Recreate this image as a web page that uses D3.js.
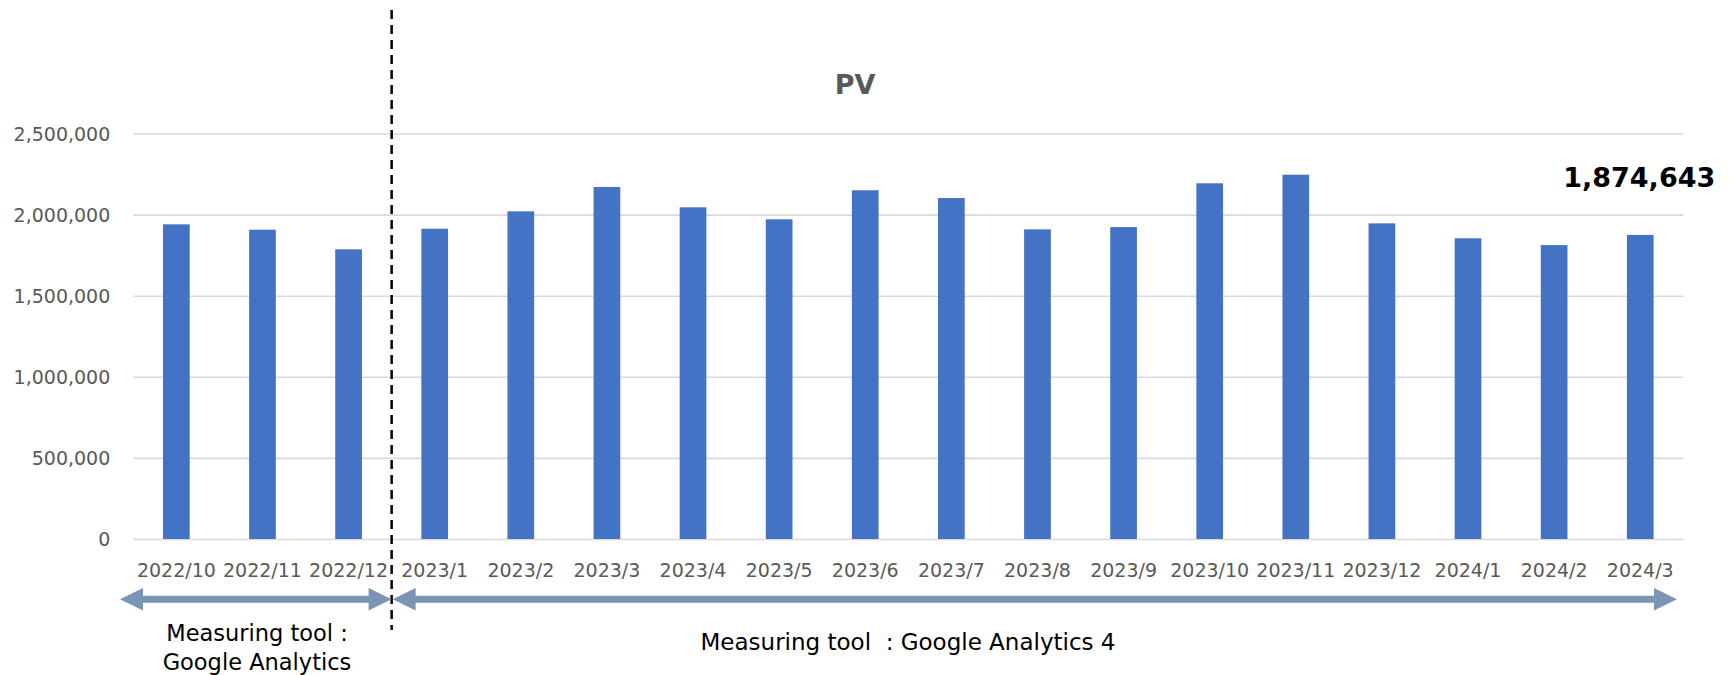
<!DOCTYPE html>
<html>
<head>
<meta charset="utf-8">
<script src="https://cdn.jsdelivr.net/npm/d3@7"></script>
<style>
  body { margin: 0; background: #fff; }
  text { font-family: "DejaVu Sans", "Noto Sans", sans-serif; }
</style>
</head>
<body>
<div id="chart"></div>
<script>
// PV per month (last one is labelled)
const months = ["2022/10", "2022/11", "2022/12", "2023/1", "2023/2", "2023/3",
  "2023/4", "2023/5", "2023/6", "2023/7", "2023/8", "2023/9", "2023/10",
  "2023/11", "2023/12", "2024/1", "2024/2", "2024/3"];
const pv = [1940000, 1907000, 1786000, 1913000, 2020000, 2170000,
  2045000, 1971000, 2150000, 2102000, 1909000, 1923000, 2193000,
  2246000, 1946000, 1854000, 1812000, 1874643];
const yTicks = [0, 500000, 1000000, 1500000, 2000000, 2500000];
const toolLabels = ["Measuring tool :", "Google Analytics"];
const toolLabel4 = "Measuring tool \u00a0: Google Analytics 4";

const width = 1732;
const height = 675;
const margin = {left: 133.3, right: 48.7, top: 133.5, bottom: 136};
const gray = "#595959";
const arrowColor = "#7A96B4";

const svg = d3.select("#chart")
  .append("svg")
  .attr("width", width)
  .attr("height", height);

// scales
const x = d3.scaleBand()
  .domain(months)
  .range([margin.left, width - margin.right])
  .paddingInner(0.69)
  .paddingOuter(0.345);

const y = d3.scaleLinear()
  .domain([0, 2500000])
  .range([height - margin.bottom, margin.top]);

// y axis with gridlines
const yAxis = svg.append("g")
  .attr("transform", `translate(${margin.left},0)`)
  .call(d3.axisLeft(y)
    .tickValues(yTicks)
    .tickFormat(d3.format(","))
    .tickSize(-(width - margin.left - margin.right))
    .tickPadding(23));
yAxis.select(".domain").remove();
yAxis.selectAll("line").attr("stroke", "#d9d9d9").attr("stroke-width", 1.6);
yAxis.selectAll("text")
  .attr("fill", gray)
  .attr("font-size", "19px")
  .attr("dy", "0.35em")
  .style("font-family", "'DejaVu Sans', sans-serif");

// bars
svg.selectAll(".bar")
  .data(pv)
  .enter()
  .append("rect")
    .attr("class", "bar")
    .attr("x", (d, i) => x(months[i]))
    .attr("y", d => y(d))
    .attr("width", x.bandwidth())
    .attr("height", d => y(0) - y(d))
    .attr("fill", "#4472C4");

// x labels
svg.selectAll(".xlab")
  .data(months)
  .enter()
  .append("text")
    .attr("class", "xlab")
    .attr("x", d => x(d) + x.bandwidth() / 2)
    .attr("y", 576.7)
    .attr("text-anchor", "middle")
    .attr("font-size", "19px")
    .attr("fill", gray)
    .text(d => d);

// title
svg.append("text")
  .attr("x", 855)
  .attr("y", 94)
  .attr("text-anchor", "middle")
  .attr("font-size", "27px")
  .attr("font-weight", "bold")
  .attr("fill", gray)
  .text("PV");

// label on the last bar
const last = months.length - 1;
svg.append("text")
  .attr("x", x(months[last]) + x.bandwidth() / 2 - 1)
  .attr("y", 187)
  .attr("text-anchor", "middle")
  .attr("font-size", "27px")
  .attr("font-weight", "bold")
  .attr("fill", "#000")
  .text(d3.format(",")(pv[last]));

// dashed divider between GA and GA4
const splitX = (x(months[2]) + x.bandwidth() + x(months[3])) / 2;
svg.append("line")
  .attr("x1", splitX).attr("x2", splitX)
  .attr("y1", 10).attr("y2", 630)
  .attr("stroke", "#000")
  .attr("stroke-width", 2.5)
  .attr("stroke-dasharray", "9,6");

// double headed arrows
const arrowY = 599.3;
function doubleArrow(x0, x1) {
  const hl = 23, hh = 11.3, sw = 3.5;
  const pts = [
    [x0, arrowY], [x0 + hl, arrowY - hh], [x0 + hl, arrowY - sw],
    [x1 - hl, arrowY - sw], [x1 - hl, arrowY - hh], [x1, arrowY],
    [x1 - hl, arrowY + hh], [x1 - hl, arrowY + sw], [x0 + hl, arrowY + sw],
    [x0 + hl, arrowY + hh]
  ];
  svg.append("polygon")
    .attr("points", pts.map(p => p.join(",")).join(" "))
    .attr("fill", arrowColor);
}
doubleArrow(120, splitX);
doubleArrow(splitX + 1, 1677);

// tool captions
svg.selectAll(".tool")
  .data(toolLabels)
  .enter()
  .append("text")
    .attr("class", "tool")
    .attr("x", 257)
    .attr("y", (d, i) => 641 + i * 29)
    .attr("text-anchor", "middle")
    .attr("font-size", "22.5px")
    .attr("fill", "#000")
    .text(d => d);

svg.append("text")
  .attr("x", 908)
  .attr("y", 650)
  .attr("text-anchor", "middle")
  .attr("font-size", "23px")
  .attr("fill", "#000")
  .text(toolLabel4);
</script>
</body>
</html>
